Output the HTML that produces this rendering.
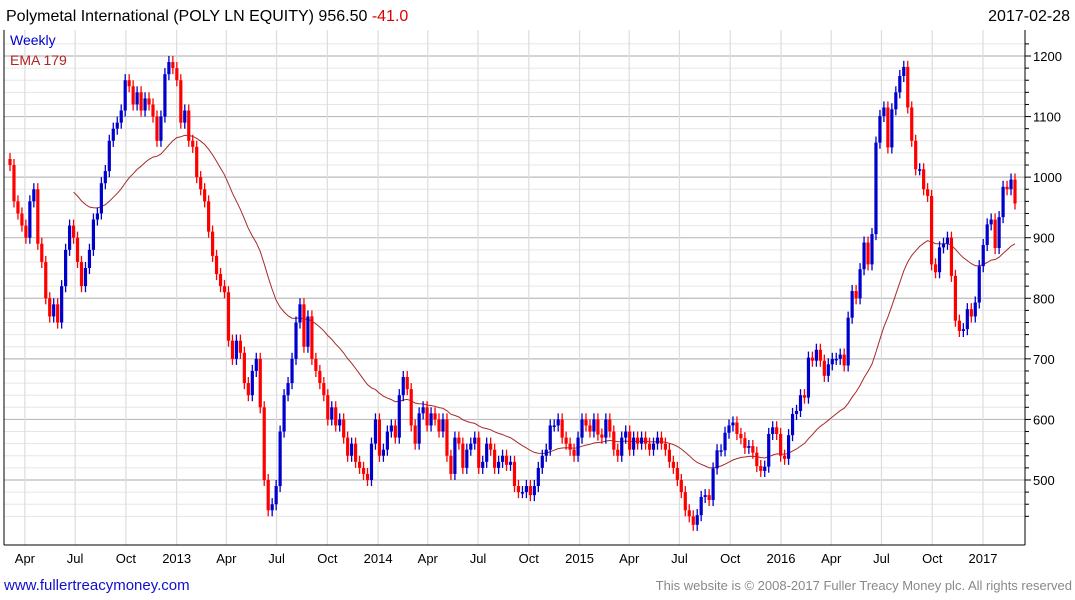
<!DOCTYPE html>
<html><head><meta charset="utf-8"><style>
body{margin:0;background:#fff;font-family:"Liberation Sans",sans-serif}
svg{display:block}
</style></head><body>
<svg id="chart" width="1075" height="600" xmlns="http://www.w3.org/2000/svg">
<rect x="0" y="0" width="1075" height="600" fill="#fff"/>
<g id="grid"></g>
<g id="ema"></g>
<g id="candles"></g>
<g id="axes"></g>
<text x="6" y="21" font-size="16" fill="#000">Polymetal International (POLY LN EQUITY) 956.50 <tspan fill="#e00000">-41.0</tspan></text>
<text x="1070" y="21" font-size="16" fill="#000" text-anchor="end">2017-02-28</text>
<text x="10" y="45" font-size="14" fill="#0000cc">Weekly</text>
<text x="10" y="65" font-size="14" fill="#b22222">EMA 179</text>
<text x="4" y="590" font-size="15" fill="#1010cc">www.fullertreacymoney.com</text>
<text x="1072" y="590" font-size="13" fill="#888" text-anchor="end">This website is © 2008-2017 Fuller Treacy Money plc. All rights reserved</text>
</svg>
<script>
const closes=[1020,960,940,920,900,960,980,890,860,800,770,790,760,820,880,920,900,860,820,850,880,930,940,990,1010,1060,1080,1090,1110,1160,1150,1120,1140,1110,1130,1120,1100,1060,1100,1170,1190,1180,1160,1090,1110,1060,1050,1000,980,960,910,870,840,820,810,730,700,730,710,660,640,680,700,620,500,450,460,490,580,640,660,700,760,790,720,770,700,680,660,640,600,620,590,
600,570,540,560,530,520,510,500,560,600,540,550,580,590,570,640,670,650,590,560,610,620,590,610,600,580,600,540,510,570,560,520,550,560,570,520,530,560,550,520,530,540,525,530,490,480,480,490,475,490,520,540,550,590,590,600,570,560,550,540,570,600,590,580,600,575,570,600,580,550,540,570,580,550,570,560,570,560,550,560,570,560,550,530,520,
500,480,450,440,426,442,472,475,467,519,549,549,578,590,595,576,569,553,556,545,523,515,522,576,587,576,540,535,574,609,614,640,636,702,697,715,697,672,691,700,700,707,689,768,
812,800,848,892,856,906,1057,1101,1115,1049,1112,1140,1167,1182,1115,1060,1013,1013,980,969,856,843,884,890,900,837,763,746,749,782,770,793,853,888,922,930,883,934,984,980,996,956.5];
const yTicks=[500,600,700,800,900,1000,1100,1200];
const xTickLabels=["Apr","Jul","Oct","2013","Apr","Jul","Oct","2014","Apr","Jul","Oct","2015","Apr","Jul","Oct","2016","Apr","Jul","Oct","2017"];
const xTickDates=["2012-04-01","2012-07-01","2012-10-01","2013-01-01","2013-04-01","2013-07-01","2013-10-01","2014-01-01","2014-04-01","2014-07-01","2014-10-01","2015-01-01","2015-04-01","2015-07-01","2015-10-01","2016-01-01","2016-04-01","2016-07-01","2016-10-01","2017-01-01"];
const emaPeriod=36, emaStart=16, emaSeed=975;

const NS="http://www.w3.org/2000/svg";
const L=10,R=1015,PL=4,PR=1025,PT=30,PB=545;
const y=v=>56+(1200-v)*0.6057;
const xi=i=>L+i*(R-L)/(closes.length-1);
const d0=new Date("2012-03-05").getTime(),d1=new Date("2017-02-28").getTime();
const xd=s=>L+(new Date(s).getTime()-d0)/(d1-d0)*(R-L);
function mk(tag,attrs,parent){const e=document.createElementNS(NS,tag);for(const k in attrs)e.setAttribute(k,attrs[k]);parent.appendChild(e);return e;}
const grid=document.getElementById('grid'),axes=document.getElementById('axes'),cg=document.getElementById('candles'),eg=document.getElementById('ema');
for(let v=440;v<=1220;v+=20){
  if(y(v)<PT||y(v)>PB)continue;
  const major=v%100===0;
  const ln=mk('line',{x1:PL,x2:PR,y1:y(v),y2:y(v),stroke:major?'#bbb':'#e6e6e6','stroke-width':major?1.2:1},grid);
  
  
  const tk=mk('line',{x1:PR,x2:PR+(major?6:4),y1:y(v),y2:y(v),stroke:'#000'},axes);
  
  
}
yTicks.forEach(v=>{
  const t=mk('text',{x:PR+8,y:y(v)+5,'font-size':13,fill:'#000'},axes);t.textContent=v;
  
  
});
xTickDates.forEach((d,k)=>{
  const x=xd(d);
  const g=mk('line',{x1:x,x2:x,y1:PT,y2:PB,stroke:'#ddd','stroke-width':1.2},grid);
  
  
  const t=mk('text',{x:x,y:563,'font-size':13,fill:'#000','text-anchor':'middle'},axes);t.textContent=xTickLabels[k];
  
  
});
const ax=mk('line',{x1:PR,x2:PR,y1:PT,y2:PB,stroke:'#000'},axes);


const bx=mk('line',{x1:PL,x2:PR,y1:PB,y2:PB,stroke:'#000'},axes);


const lx=mk('line',{x1:PL,x2:PL,y1:PT,y2:PB,stroke:'#000'},axes);


for(let i=0;i<closes.length;i++){
  const o=i>0?closes[i-1]:closes[0]+10,c=closes[i];
  const up=c>=o,col=up?'#0000cc':'#ff0000';
  const x=xi(i),hi=Math.max(o,c)+10,lo=Math.min(o,c)-10;
  const w=mk('line',{x1:x,x2:x,y1:y(hi),y2:y(lo),stroke:col,'stroke-width':1.3},cg);
  
  
  const top=y(Math.max(o,c)),h=Math.max(1.5,y(Math.min(o,c))-top);
  const b=mk('rect',{x:x-1.6,y:top,width:3.2,height:h,fill:col},cg);
  
  
}
let e=emaSeed,pts=[];const a=2/(emaPeriod+1);
for(let i=emaStart;i<closes.length;i++){e=i===emaStart?emaSeed:e+a*(closes[i]-e);pts.push(xi(i).toFixed(1)+','+y(e).toFixed(1));}
const pl=mk('polyline',{points:pts.join(' '),fill:'none',stroke:'#a52a2a','stroke-width':1},eg);


</script>
</body></html>
